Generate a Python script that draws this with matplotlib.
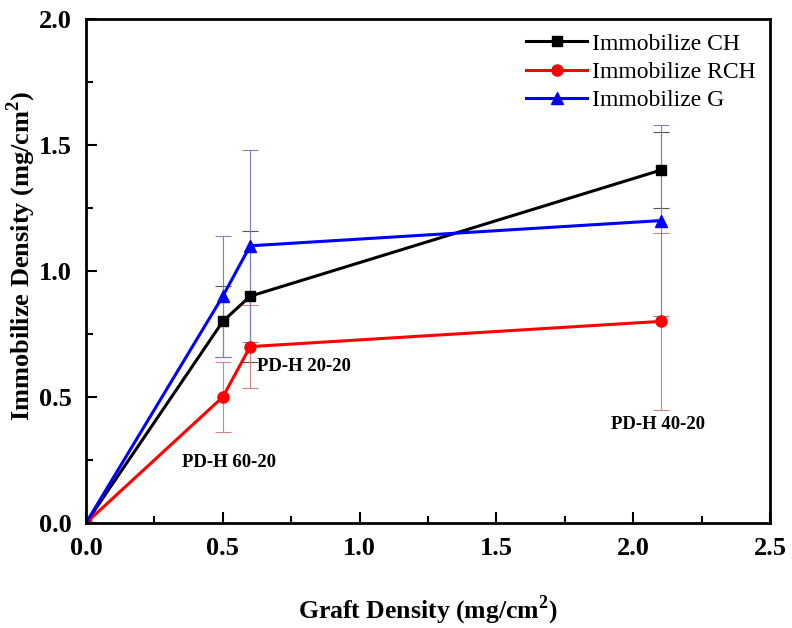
import matplotlib.pyplot as plt
from matplotlib.ticker import MultipleLocator

# ---------------------------- data ----------------------------
graft = [0.0, 0.5, 0.6, 2.1]

ch = [0.0, 0.8, 0.9, 1.4]
ch_err = [0.0, 0.14, 0.26, 0.15]

rch = [0.0, 0.5, 0.7, 0.8]
rch_err = [0.0, 0.137, 0.165, 0.35]

g = [0.0, 0.9, 1.1, 1.2]
g_err = [0.0, 0.24, 0.38, 0.38]

notes = ["PD-H 60-20", "PD-H 20-20", "PD-H 40-20"]
note_xy = [(0.35, 0.24), (0.625, 0.62), (1.92, 0.39)]

# ---------------------------- plot ----------------------------
plt.rcParams['font.family'] = ['Liberation Serif', 'DejaVu Serif']
plt.rcParams['mathtext.fontset'] = 'custom'
plt.rcParams['mathtext.bf'] = 'Liberation Serif:bold'
plt.rcParams['mathtext.rm'] = 'Liberation Serif'

fig = plt.figure(figsize=(7.92, 6.28), dpi=100)
ax = fig.add_axes([86/792, 1-523/628, (770-86)/792, (523-19)/628])

ax.errorbar(graft, ch, yerr=ch_err, fmt='none', ecolor='#555555', elinewidth=0.8, capsize=6, capthick=0.8)
ax.errorbar(graft, rch, yerr=rch_err, fmt='none', ecolor='#d98080', elinewidth=0.8, capsize=6, capthick=0.8)
ax.errorbar(graft, g, yerr=g_err, fmt='none', ecolor='#8080c8', elinewidth=0.8, capsize=6, capthick=0.8)

ax.plot(graft, ch, color='black', marker='s', markersize=7, linewidth=2.2, label='Immobilize CH')
ax.plot(graft, rch, color='red', marker='o', markersize=8, linewidth=2.2, label='Immobilize RCH')
ax.plot(graft, g, color='blue', marker='^', markersize=9, linewidth=2.2, label='Immobilize G')

for t, (x, y) in zip(notes, note_xy):
    ax.text(x, y, t, fontsize=13.5, fontweight='bold', ha='left', va='center')

ax.set_xlim(0, 2.5)
ax.set_ylim(0, 2.0)
ax.xaxis.set_major_locator(MultipleLocator(0.5))
ax.xaxis.set_minor_locator(MultipleLocator(0.25))
ax.yaxis.set_major_locator(MultipleLocator(0.5))
ax.yaxis.set_minor_locator(MultipleLocator(0.25))
ax.tick_params(which='major', direction='in', length=8, width=1.5, labelsize=19)
ax.tick_params(axis='x', which='major', pad=10)
ax.tick_params(axis='y', which='major', pad=10)
ax.tick_params(which='minor', direction='in', length=5, width=1.5)
for lab in ax.get_xticklabels() + ax.get_yticklabels():
    lab.set_fontweight('bold')
for s in ax.spines.values():
    s.set_linewidth(2)

ax.set_xlabel('Graft Density (mg/cm$^\\mathbf{2}$)', fontsize=18.5, fontweight='bold')
ax.set_ylabel('Immobilize Density (mg/cm$^\\mathbf{2}$)', fontsize=19, fontweight='bold')
ax.xaxis.set_label_coords(0.5, -0.14)
ax.yaxis.set_label_coords(-0.07, 0.53)

ax.legend(loc='upper right', frameon=False, fontsize=17, handlelength=2.6,
          handletextpad=0.2, labelspacing=0.28, borderaxespad=0.2)

fig.savefig('out.png', dpi=100)
